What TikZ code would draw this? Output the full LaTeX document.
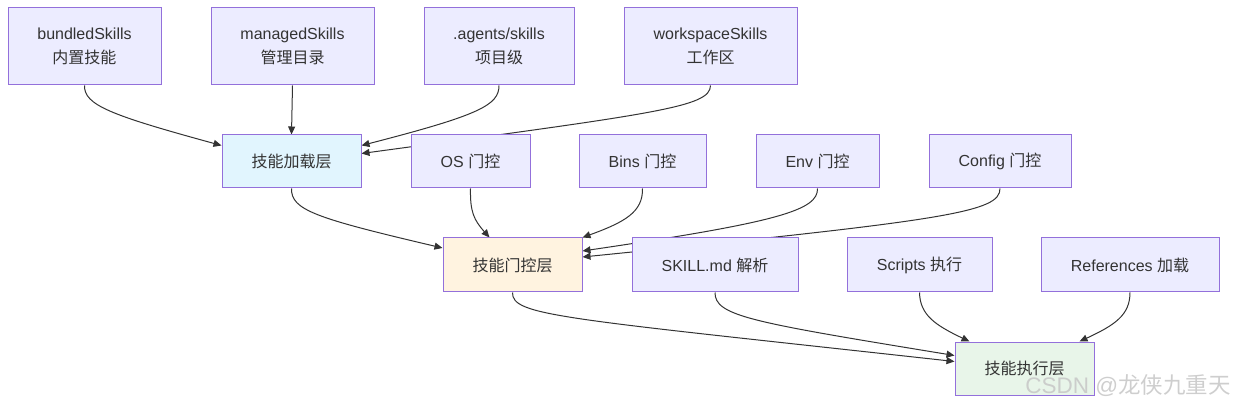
\documentclass[tikz,border=0pt]{standalone}
\usepackage{fontspec}
\setmainfont{Liberation Sans}
\newfontfamily\cjk{Noto Sans CJK SC}
\usetikzlibrary{arrows.meta,calc}
\pgfdeclarelayer{bg}
\pgfsetlayers{bg,main}
\definecolor{nfill}{HTML}{ECECFF}
\definecolor{nstroke}{HTML}{9370DB}
\definecolor{txt}{HTML}{333333}
\definecolor{lblue}{HTML}{E1F5FE}
\definecolor{lorange}{HTML}{FFF3E0}
\definecolor{lgreen}{HTML}{E8F5E9}
\tikzset{
  box/.style={draw=nstroke, fill=nfill, line width=1pt, text=txt, align=center,
    font=\fontsize{16}{24}\selectfont, inner sep=0pt},
  edge/.style={draw=txt, line width=1pt, -{Triangle[length=8pt,width=7pt]}},
}
\begin{document}
\begin{tikzpicture}[x=1pt,y=-1pt]
\useasboundingbox (0,0) rectangle (1235,406);
% top row
\node[box, minimum width=153pt, minimum height=77pt] (bun) at (84.5,46.5) {bundledSkills\\{\cjk 内置技能}};
\node[box, minimum width=163pt, minimum height=77pt] (man) at (292.5,46.5) {managedSkills\\{\cjk 管理目录}};
\node[box, minimum width=150pt, minimum height=77pt] (age) at (499,46.5) {.agents/skills\\{\cjk 项目级}};
\node[box, minimum width=173pt, minimum height=77pt] (wor) at (710.5,46.5) {workspaceSkills\\{\cjk 工作区}};
% second row
\node[box, fill=lblue, minimum width=139pt, minimum height=53pt] (load) at (291.5,161.5) {\cjk 技能加载层};
\node[box, minimum width=119pt, minimum height=53pt] (os) at (470.5,161.5) {OS {\cjk 门控}};
\node[box, minimum width=127pt, minimum height=53pt] (bins) at (642.5,161.5) {Bins {\cjk 门控}};
\node[box, minimum width=123pt, minimum height=53pt] (env) at (817.5,161.5) {Env {\cjk 门控}};
\node[box, minimum width=142pt, minimum height=53pt] (cfg) at (1000,161.5) {Config {\cjk 门控}};
% third row
\node[box, fill=lorange, minimum width=139pt, minimum height=54pt] (gate) at (512.5,265) {\cjk 技能门控层};
\node[box, minimum width=166pt, minimum height=54pt] (skill) at (715,265) {SKILL.md {\cjk 解析}};
\node[box, minimum width=145pt, minimum height=54pt] (scr) at (919.5,265) {Scripts {\cjk 执行}};
\node[box, minimum width=178pt, minimum height=54pt] (ref) at (1130,265) {References {\cjk 加载}};
% bottom
\node[box, fill=lgreen, minimum width=139pt, minimum height=53pt] (exe) at (1024.5,368.5) {\cjk 技能执行层};
% watermark
\node[text=gray!45, opacity=0.85, font=\fontsize{22.5}{24}\selectfont, anchor=east, inner sep=0pt] (wm) at (1231,386) {CSDN @{\cjk 龙侠九重天}};
\begin{pgfonlayer}{bg}
\draw[edge] (bun.south) .. controls (84,105) and (110,115) .. ($(load.west)+(0,-16)$);
\draw[edge] (man.south) -- (load.north);
\draw[edge] (age.south) .. controls (499,105) and (480,115) .. ($(load.east)+(0,-16)$);
\draw[edge] (wor.south) .. controls (710,107) and (660,113) .. ($(load.east)+(0,-8)$);
\draw[edge] (load.south) .. controls (291,210) and (315,218) .. ($(gate.west)+(0,-17)$);
\draw[edge] (os.south) .. controls (470,212) and (474,220) .. ($(gate.north west)+(47,0)$);
\draw[edge] (bins.south) .. controls (643,212) and (625,222) .. (gate.north east);
\draw[edge] (env.south) .. controls (818,210) and (780,222) .. ($(gate.east)+(0,-14)$);
\draw[edge] (cfg.south) .. controls (1000,212) and (950,220) .. ($(gate.east)+(0,-8)$);
\draw[edge] (gate.south) .. controls (512,316) and (560,318) .. ($(exe.west)+(0,-7)$);
\draw[edge] (skill.south) .. controls (715,316) and (750,322) .. ($(exe.west)+(0,-13)$);
\draw[edge] (scr.south) .. controls (920,315) and (935,325) .. ($(exe.north west)+(15,0)$);
\draw[edge] (ref.south) .. controls (1130,315) and (1115,325) .. ($(exe.north west)+(125,0)$);
\end{pgfonlayer}
\end{tikzpicture}
\end{document}
